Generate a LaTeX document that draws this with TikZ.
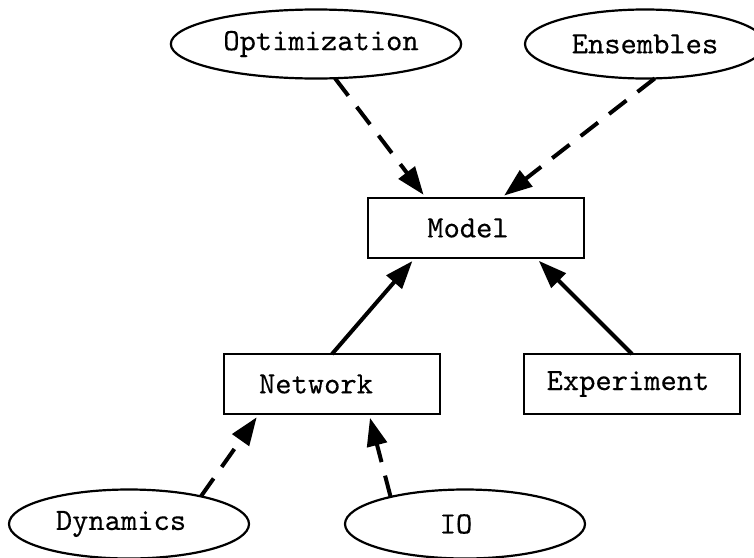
\documentclass[tikz,border=0pt]{standalone}
\usepackage{fontspec}
\setmonofont{lmmono10-regular.otf}[FakeBold=0.25]
\usepackage{tikz}
\usetikzlibrary{positioning, arrows.meta, shapes.geometric}

\begin{document}
\begin{tikzpicture}[x=1pt,y=-1pt,on grid,
  >={Triangle[length=28pt,width=20pt]},
  every node/.style={font=\ttfamily\fontsize{31}{37}\selectfont},
  cls/.style={draw,line width=2.2pt,minimum width=216pt,minimum height=60pt,
              inner sep=0pt,outer sep=0pt},
  mod/.style={ellipse,draw,line width=2.2pt,minimum width=240pt,minimum height=69pt,
              inner sep=0pt,outer sep=0pt},
  uses/.style={->,line width=4pt,shorten >=4pt},
  plug/.style={uses,dash pattern=on 22pt off 14pt}]
  \useasboundingbox (0,0) rectangle (754,557);
  \node[cls] (Mo) at (476,228) {Model\hspace*{16pt}};
  \node[mod, above left=184pt and 160pt of Mo] (Op) {\hspace*{10pt}Optimization};
  \node[mod, above right=184pt and 169pt of Mo] (En) {Ensembles};
  \node[cls, below left=156pt and 144pt of Mo] (Ne) {Network\hspace*{32pt}};
  \node[cls, below right=156pt and 156pt of Mo] (Ex) {Experiment\hspace*{8pt}};
  \node[mod, below left=140pt and 203pt of Ne] (Dy) {Dynamics\hspace*{16pt}};
  \node[mod, below right=140pt and 133pt of Ne] (IO) {IO\hspace*{18pt}};
  \draw[plug] (Op.-61) -- ([xshift=-50pt]Mo.north);
  \draw[plug] (En.-74) -- ([xshift=25pt]Mo.north);
  \draw[uses] (Ne.north) -- ([xshift=-61pt]Mo.south);
  \draw[uses] (Ex.north) -- ([xshift=60pt]Mo.south);
  \draw[plug] (Dy.21) -- ([xshift=-73pt]Ne.south);
  \draw[plug] (IO.160) -- ([xshift=37pt]Ne.south);
\end{tikzpicture}
\end{document}
